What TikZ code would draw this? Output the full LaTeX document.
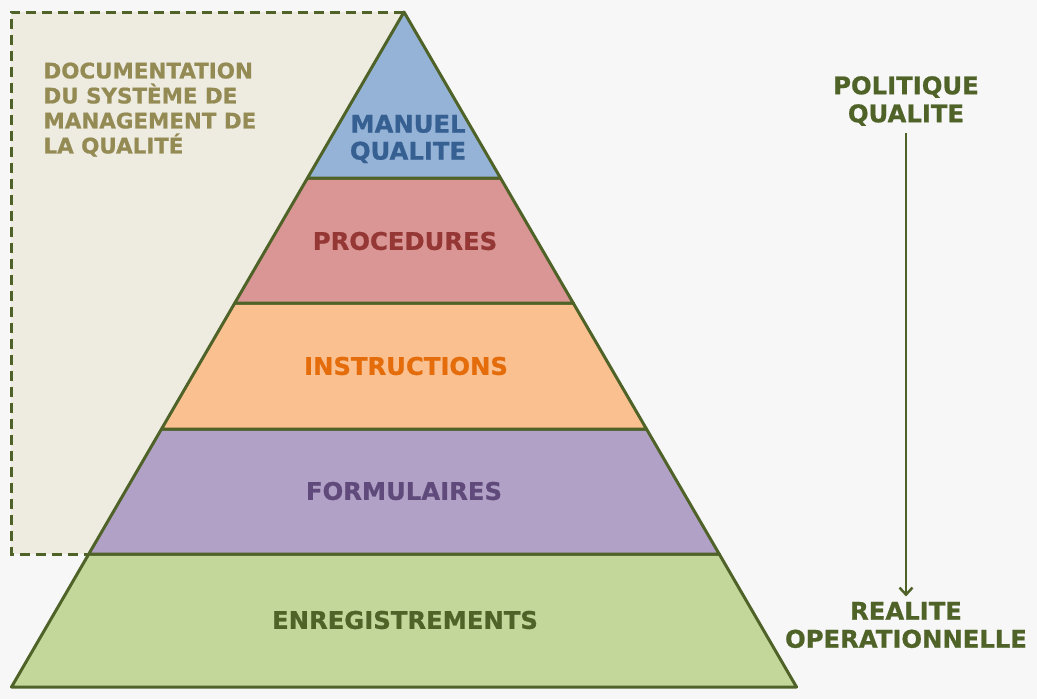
\documentclass[tikz,border=0pt]{standalone}
\usepackage{fontspec}
\setmainfont{DejaVu Sans}[BoldFeatures={FakeBold=0.8}]
\usepackage{xcolor}
\usetikzlibrary{arrows.meta,positioning,calc}

\definecolor{bgcol}{HTML}{F7F7F7}
\definecolor{olive}{HTML}{4F6228}
\definecolor{docfill}{HTML}{EEECE1}
\definecolor{doctext}{HTML}{948A54}
\definecolor{manfill}{HTML}{95B3D7}
\definecolor{mantext}{HTML}{366092}
\definecolor{procfill}{HTML}{DA9694}
\definecolor{proctext}{HTML}{953735}
\definecolor{instfill}{HTML}{FAC090}
\definecolor{insttext}{HTML}{E46C0A}
\definecolor{formfill}{HTML}{B2A1C7}
\definecolor{formtext}{HTML}{604A7B}
\definecolor{enrfill}{HTML}{C4D79B}

\begin{document}
\begin{tikzpicture}[
        x=1pt, y=-1pt,
        band/.style={draw=olive, line width=3pt, line join=round},
        level/.style={font=\fontsize{24.3}{27}\selectfont\bfseries, align=center},
        side/.style={font=\fontsize{24.3}{28}\selectfont\bfseries, align=center, text=olive},
        doc/.style={font=\fontsize{21.4}{25}\selectfont\bfseries, align=left, text=doctext, anchor=north west}
    ]

    % Background
    \useasboundingbox[fill=bgcol] (0,0) rectangle (1037,699);

    % Documentation area
    \fill[docfill] (11,12) rectangle (404,554);
    \draw[olive, line width=3pt, dash pattern=on 10pt off 6pt] (404,12) -- (11,12) -- (11,554) -- (88.8,554);
    \node[doc] (docu) at (40,59) {DOCUMENTATION\\DU SYSTÈME DE\\MANAGEMENT DE\\LA QUALITÉ};

    % Pyramid levels
    \draw[band, fill=enrfill] (88.8,554) -- (719.2,554) -- (796.5,687) -- (11.5,687) -- cycle;
    \draw[band, fill=formfill] (161.5,429) -- (646.5,429) -- (719.2,554) -- (88.8,554) -- cycle;
    \draw[band, fill=instfill] (234.8,303) -- (573.2,303) -- (646.5,429) -- (161.5,429) -- cycle;
    \draw[band, fill=procfill] (307.5,178) -- (500.5,178) -- (573.2,303) -- (234.8,303) -- cycle;
    \draw[band, fill=manfill] (404,12) -- (500.5,178) -- (307.5,178) -- cycle;

    % Level labels
    \node[level, text=mantext] (manuel) at (408,139) {MANUEL\\QUALITE};
    \node[level, text=proctext] (procedures) at (405,241) {PROCEDURES};
    \node[level, text=insttext] (instructions) at (406,366) {INSTRUCTIONS};
    \node[level, text=formtext] (formulaires) at (404,491) {FORMULAIRES};
    \node[level, text=olive] (enreg) at (405,620) {ENREGISTREMENTS};

    % Right side
    \node[side] (politique) at (906,101) {POLITIQUE\\QUALITE};
    \node[side] (realite) at (906,625) {REALITE\\OPERATIONNELLE};
    \draw[-{Straight Barb[length=7pt,width=13pt]}, olive, line width=2.5pt, shorten <=4pt, shorten >=2pt] (politique) -- (realite);

\end{tikzpicture}
\end{document}
